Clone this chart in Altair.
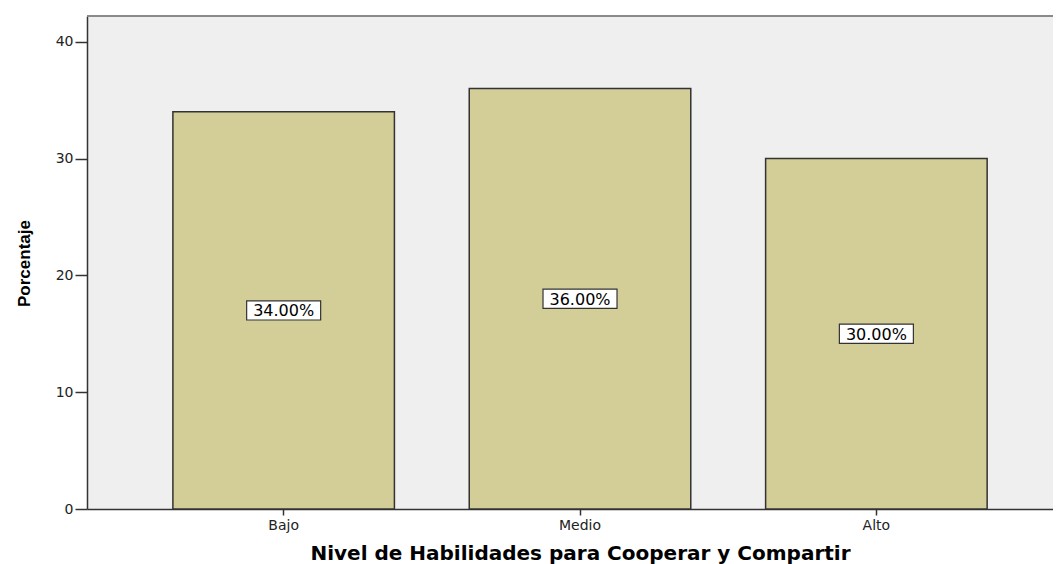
import altair as alt
import pandas as pd

categories = ["Bajo", "Medio", "Alto"]
percentages = [34.0, 36.0, 30.0]
y_ticks = [0, 10, 20, 30, 40]

df = pd.DataFrame({"nivel": categories, "pct": percentages})
df["half"] = df["pct"] / 2
df["label"] = df["pct"].map(lambda v: f"{v:.2f}%")

W, H = 966, 493

x_enc = alt.X(
    "nivel:N",
    sort=categories,
    scale=alt.Scale(paddingInner=0.2525, paddingOuter=0.256, align=0.566),
    axis=alt.Axis(
        title="Nivel de Habilidades para Cooperar y Compartir",
        labelAngle=0,
        labelFont="DejaVu Sans",
        labelFontSize=14,
        labelColor="#222222",
        labelPadding=3,
        tickSize=6,
        tickColor="#333333",
        tickWidth=1.5,
        domainColor="#333333",
        domainWidth=1.5,
        titleFont="DejaVu Sans",
        titleFontWeight="bold",
        titleFontSize=20,
        titleColor="#000000",
        titleX=493,
        titleY=50,
        titleBaseline="alphabetic",
        titleAnchor="middle",
        grid=False,
    ),
)

y_scale = alt.Scale(domain=[0, 42.2], nice=False, zero=True)
y_axis = alt.Axis(
    title="Porcentaje",
    values=y_ticks,
    labelFont="DejaVu Sans",
    labelFontSize=14,
    labelColor="#222222",
    labelPadding=2,
    tickSize=12,
    tickColor="#333333",
    tickWidth=1.5,
    domainColor="#333333",
    domainWidth=1.5,
    titleFont="Liberation Sans",
    titleFontWeight="bold",
    titleFontSize=17,
    titleColor="#000000",
    titleAngle=-90,
    titleX=-63,
    titleY=247,
    titleBaseline="middle",
    titleAlign="center",
    grid=False,
)

bars = alt.Chart(df).mark_bar(
    fill="#d3ce98", stroke="#333333", strokeWidth=1.5
).encode(
    x=x_enc,
    y=alt.Y("pct:Q", scale=y_scale, axis=y_axis),
)

box_path = "M-1,-0.26L1,-0.26L1,0.26L-1,0.26Z"
boxes = alt.Chart(df).mark_point(
    shape=box_path, size=74 * 74, filled=True, fill="white",
    stroke="#333333", strokeWidth=1.2, opacity=1
).encode(
    x=alt.X("nivel:N", sort=categories),
    y=alt.Y("half:Q"),
)

texts = alt.Chart(df).mark_text(
    font="DejaVu Sans", fontSize=16, color="#000000", baseline="middle", dy=1
).encode(
    x=alt.X("nivel:N", sort=categories),
    y=alt.Y("half:Q"),
    text="label:N",
)

top_border = alt.Chart(df).mark_rule(color="#8a8a8a", strokeWidth=2).encode(
    x=alt.value(0), x2=alt.value(W), y=alt.value(0)
)

chart = alt.layer(bars, boxes, texts, top_border).properties(
    width=W,
    height=H,
    autosize=alt.AutoSizeParams(type="none"),
    padding={"left": 79, "top": 8, "right": 0, "bottom": 55},
    background="white",
).configure_view(
    fill="#efefef", stroke=None
)

chart.save("out.html", embed_options={"renderer": "svg", "actions": False})
